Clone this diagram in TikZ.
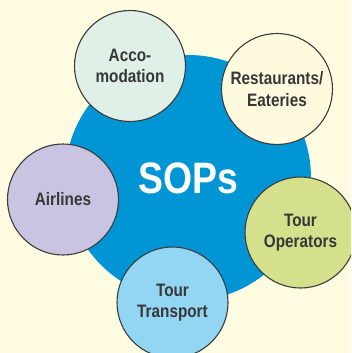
\documentclass[tikz,border=0pt]{standalone}
\usepackage{fontspec}
\setmainfont{Liberation Sans}[FakeStretch=0.85]
\definecolor{paper}{RGB}{255,251,224}
\definecolor{sopblue}{RGB}{0,150,214}
\definecolor{rimgray}{RGB}{60,60,60}
\definecolor{inkgray}{RGB}{55,55,55}
\definecolor{mint}{RGB}{225,240,231}
\definecolor{cream}{RGB}{255,250,222}
\definecolor{lavender}{RGB}{200,196,226}
\definecolor{lime}{RGB}{212,224,140}
\definecolor{sky}{RGB}{147,214,244}
\begin{document}
\begin{tikzpicture}[x=1pt,y=-1pt,
  hub/.style={circle, fill=sopblue, minimum size=246pt, inner sep=0pt,
    text=white, font=\bfseries\fontsize{44}{48}\selectfont},
  area/.style={circle, draw=rimgray, line width=1.1pt, minimum size=111pt,
    inner sep=0pt, text=inkgray, align=center,
    font=\bfseries\fontsize{18}{21.5}\selectfont}]
\fill[paper] (0,0) rectangle (351,353);
\useasboundingbox (0,0) rectangle (351,353);
\clip (0,0) rectangle (351,353);
% central hub
\node[hub] (sops) at (188,178) {SOPs};
% surrounding areas
\node[area, fill=mint]     (acco)  at (130,66)    {Acco-\\modation};
\node[area, fill=cream]    (rest)  at (277,89)    {Restaurants/\\Eateries};
\node[area, fill=lavender] (air)   at (63,199.5)  {Airlines};
\node[area, fill=lime]     (oper)  at (300.5,232.5) {Tour\\Operators};
\node[area, fill=sky]      (trans) at (172.5,302.5) {Tour\\Transport};
\end{tikzpicture}
\end{document}
